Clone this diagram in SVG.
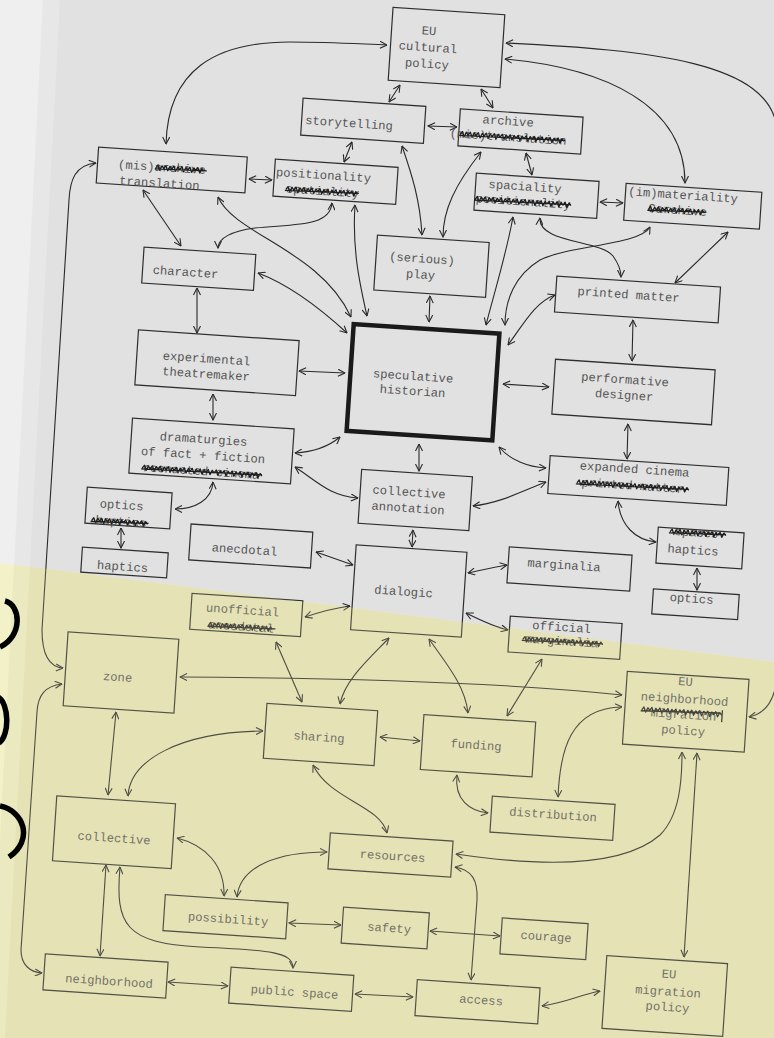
<svg xmlns="http://www.w3.org/2000/svg" width="774" height="1038" viewBox="0 0 774 1038">
<style>
.b{fill:none;stroke:#2e2e2e;stroke-width:1.2}
.t{font-family:"Liberation Mono","DejaVu Sans Mono",monospace;font-size:12.2px;fill:#555;text-anchor:middle;dominant-baseline:central}
.s{fill:none;stroke:#1e1e1e;stroke-width:1.3;stroke-linejoin:round}
.c path{fill:none;stroke:#2a2a2a;stroke-width:1.1;marker-start:url(#a);marker-end:url(#a)}
</style>
<defs>
<marker id="a" viewBox="0 0 8 8" refX="7.5" refY="4" markerWidth="8" markerHeight="8" markerUnits="userSpaceOnUse" orient="auto-start-reverse"><path d="M0.5,0.5 L7.5,4 L0.5,7.5" fill="none" stroke="#2a2a2a" stroke-width="1.1"/></marker>
</defs>
<g id="background">
<rect width="774" height="1038" fill="#efefef"/>
<polygon points="43,0 774,0 774,1038 -10,1038" fill="#e7e7e7"/>
<polygon points="60,0 774,0 774,1038 5,1038" fill="#e1e1e1"/>
<polygon points="0,563 774,662 774,1038 0,1038" fill="#f3f1c8"/>
<polygon points="14,564.8 774,662 774,1038 -10,1038" fill="#ebe9bf"/>
<polygon points="30,566.8 774,662 774,1038 5,1038" fill="#e5e3b6"/>
</g>
<g id="connectors" class="c">
<path d="M166,144 C168,70 215,42 290,42 C330,42 360,44 387,45"/>
<path d="M400,85 L389,102"/>
<path d="M481,89 L493,108"/>
<path d="M506,43 C650,50 772,62 777,130 L777,670 C777,700 765,714 749,717"/>
<path d="M505,59 C605,68 685,105 685,183"/>
<path d="M428,126 L457,127"/>
<path d="M352,142 L344,162"/>
<path d="M402,146 C412,175 420,200 422,235"/>
<path d="M481,152 C455,185 443,210 443,237"/>
<path d="M526,153 L532,175"/>
<path d="M249,179 L272,180"/>
<path d="M143,190 L181,246"/>
<path d="M218,197 C235,235 320,250 351,317"/>
<path d="M332,203 C330,228 290,224 255,228 C232,231 218,238 218,248"/>
<path d="M355,205 C352,250 360,285 367,316"/>
<path d="M258,273 C290,285 322,310 347,333"/>
<path d="M197,288 L197,333"/>
<path d="M513,217 C506,255 495,290 486,325"/>
<path d="M540,218 C538,243 600,240 613,256 C618,263 621,270 621,277"/>
<path d="M600,202 L623,203"/>
<path d="M650,227 C640,245 570,245 540,260 C515,275 505,300 505,325"/>
<path d="M728,232 L675,283"/>
<path d="M430,296 L429,322"/>
<path d="M555,295 C535,302 523,325 508,345"/>
<path d="M633,320 L632,361"/>
<path d="M299,371 L345,373"/>
<path d="M503,384 L549,387"/>
<path d="M213,394 L213,420"/>
<path d="M295,453 C312,452 328,447 340,437"/>
<path d="M295,467 C318,482 330,496 358,498"/>
<path d="M213,482 C212,500 195,509 175,509"/>
<path d="M121,528 L121,548"/>
<path d="M419,444 L419,471"/>
<path d="M499,447 C510,460 528,467 546,468"/>
<path d="M473,506 C500,503 520,492 546,482"/>
<path d="M628,424 L627,459"/>
<path d="M618,501 C620,525 635,540 656,542"/>
<path d="M697,568 L697,590"/>
<path d="M413,530 L412,547"/>
<path d="M316,552 L353,565"/>
<path d="M468,573 C482,570 495,567 507,565"/>
<path d="M466,613 C480,620 495,627 508,630"/>
<path d="M305,617 C320,612 335,608 350,606"/>
<path d="M276,642 L302,702"/>
<path d="M389,638 C368,660 345,680 340,704"/>
<path d="M429,639 C445,662 465,685 468,713"/>
<path d="M542,659 L507,716"/>
<path d="M180,677 C350,678 500,682 622,695"/>
<path d="M380,737 L420,741"/>
<path d="M457,775 C454,800 470,811 488,813"/>
<path d="M558,797 C560,750 570,708 622,707"/>
<path d="M116,712 L108,795"/>
<path d="M263,731 C180,732 130,760 128,796"/>
<path d="M313,765 C330,800 380,805 387,833"/>
<path d="M177,838 C205,845 225,865 224,896"/>
<path d="M327,852 C280,852 240,865 237,897"/>
<path d="M106,865 L100,956"/>
<path d="M120,867 C115,925 125,943 200,947 C270,950 293,952 293,968"/>
<path d="M289,923 L341,925"/>
<path d="M430,931 L500,936"/>
<path d="M456,854 C530,865 620,870 660,835 C680,815 682,780 682,752"/>
<path d="M697,753 L684,957"/>
<path d="M455,867 C472,870 478,880 477,900 L471,980"/>
<path d="M542,1006 C565,1003 580,995 600,991"/>
<path d="M355,994 L413,997"/>
<path d="M168,982 L228,986"/>
<path d="M96,163 C75,165 70,180 69,200 L42,630 C42,655 50,667 63,668"/>
<path d="M62,684 C45,686 38,695 37,712 L21,950 C21,965 30,972 42,973"/>
</g>
<g id="n-eu-cultural-policy" transform="translate(446.5,47.5) rotate(3.8)"><rect class="b" x="-56" y="-36.5" width="112" height="73"/><text class="t" x="-18.5" y="-14.5">EU</text><text class="t" x="-18.5" y="2">cultural</text><text class="t" x="-18.5" y="18.5">policy</text></g>
<g id="n-storytelling" transform="translate(363.25,120.75) rotate(3.8)"><rect class="b" x="-61.5" y="-18.5" width="123" height="37"/><text class="t" x="-14" y="4.2">storytelling</text></g>
<g id="n-archive" transform="translate(520.5,131.5) rotate(3.8)"><rect class="b" x="-61.5" y="-18.5" width="123" height="37"/><text class="t" x="-13" y="-8.7">archive</text><text class="t" x="-12" y="7.3">(mis)translation</text><path class="s" d="M-60,7 l2,-3 2,5 2,-4.5 2,2.5 2,-3 2,5 2,-4.5 2,2.5 2,-3 2,5 2,-4.5 2,2.5 2,-3 2,5 2,-4.5 2,2.5 2,-3 2,5 2,-4.5 2,2.5 2,-3 2,5 2,-4.5 2,2.5 2,-3 2,5 2,-4.5 2,2.5 2,-3 2,5 2,-4.5 2,2.5 2,-3 2,5 2,-4.5 2,2.5 2,-3 2,5 2,-4.5 2,2.5 2,-3 2,5 2,-4.5 2,2.5 2,-3 2,5 2,-4.5 2,2.5 2,-3 2,5 2,-4.5 2,2.5 M-61,8 L45,6"/></g>
<g id="n-mis-archive-translation" transform="translate(171.75,170) rotate(3.8)"><rect class="b" x="-74.5" y="-18" width="149" height="36"/><text class="t" x="-10" y="-1.2">(mis)archive</text><text class="t" x="-11.5" y="14.8">translation</text><path class="s" d="M-16,-1 l2,-3 2,5 2,-4.5 2,2.5 2,-3 2,5 2,-4.5 2,2.5 2,-3 2,5 2,-4.5 2,2.5 2,-3 2,5 2,-4.5 2,2.5 2,-3 2,5 2,-4.5 2,2.5 2,-3 2,5 2,-4.5 2,2.5 M-17,0 L35,-1.5"/></g>
<g id="n-positionality" transform="translate(335.5,181.75) rotate(3.8)"><rect class="b" x="-61.5" y="-18.5" width="123" height="37"/><text class="t" x="-12.4" y="-4.9">positionality</text><text class="t" x="-12.3" y="11.1">spatiality</text><path class="s" d="M-49,11 l2,-3 2,5 2,-4.5 2,2.5 2,-3 2,5 2,-4.5 2,2.5 2,-3 2,5 2,-4.5 2,2.5 2,-3 2,5 2,-4.5 2,2.5 2,-3 2,5 2,-4.5 2,2.5 2,-3 2,5 2,-4.5 2,2.5 2,-3 2,5 2,-4.5 2,2.5 2,-3 2,5 2,-4.5 2,2.5 2,-3 2,5 2,-4.5 2,2.5 M-50,12 L24,10"/></g>
<g id="n-spaciality" transform="translate(536.5,195.75) rotate(3.8)"><rect class="b" x="-61.5" y="-18.5" width="123" height="37"/><text class="t" x="-12" y="-7.5">spaciality</text><text class="t" x="-13" y="7.6">positionality</text><path class="s" d="M-61,7.6 l2,-3 2,5 2,-4.5 2,2.5 2,-3 2,5 2,-4.5 2,2.5 2,-3 2,5 2,-4.5 2,2.5 2,-3 2,5 2,-4.5 2,2.5 2,-3 2,5 2,-4.5 2,2.5 2,-3 2,5 2,-4.5 2,2.5 2,-3 2,5 2,-4.5 2,2.5 2,-3 2,5 2,-4.5 2,2.5 2,-3 2,5 2,-4.5 2,2.5 2,-3 2,5 2,-4.5 2,2.5 2,-3 2,5 2,-4.5 2,2.5 2,-3 2,5 2,-4.5 2,2.5 M-62,8.5 L35,6.5"/></g>
<g id="n-immateriality" transform="translate(692.75,206.25) rotate(3.8)"><rect class="b" x="-68" y="-18.5" width="136" height="37"/><text class="t" x="-10.4" y="-9.6">(im)materiality</text><text class="t" x="-14.9" y="5.75">Carchive</text><path class="s" d="M-44,6 l2,-3 2,5 2,-4.5 2,2.5 2,-3 2,5 2,-4.5 2,2.5 2,-3 2,5 2,-4.5 2,2.5 2,-3 2,5 2,-4.5 2,2.5 2,-3 2,5 2,-4.5 2,2.5 2,-3 2,5 2,-4.5 2,2.5 2,-3 2,5 2,-4.5 2,2.5 M-45,7 L14,5"/></g>
<g id="n-character" transform="translate(198.75,268.75) rotate(3.8)"><rect class="b" x="-56" y="-18" width="112" height="36"/><text class="t" x="-13" y="5.1">character</text></g>
<g id="n-serious-play" transform="translate(431.5,266.25) rotate(3.8)"><rect class="b" x="-56" y="-27.5" width="112" height="55"/><text class="t" x="-10" y="-6.1">(serious)</text><text class="t" x="-10.4" y="10">play</text></g>
<g id="n-printed-matter" transform="translate(637.5,299.5) rotate(3.8)"><rect class="b" x="-82" y="-18" width="164" height="36"/><text class="t" x="-9.3" y="-3.4">printed matter</text></g>
<g id="n-speculative-historian" transform="translate(423,382.25) rotate(3.8)"><rect x="-73" y="-53.5" width="146" height="107" fill="none" stroke="#1a1a1a" stroke-width="4.5"/><text class="t" x="-10.35" y="-4.6">speculative</text><text class="t" x="-9.85" y="10.4">historian</text></g>
<g id="n-experimental-theatremaker" transform="translate(217,362.75) rotate(3.8)"><rect class="b" x="-80.5" y="-27.5" width="161" height="55"/><text class="t" x="-10.7" y="-2.5">experimental</text><text class="t" x="-10.2" y="12.9">theatremaker</text></g>
<g id="n-performative-designer" transform="translate(633.5,392) rotate(3.8)"><rect class="b" x="-80" y="-27.5" width="160" height="55"/><text class="t" x="-9.3" y="-10.9">performative</text><text class="t" x="-9.2" y="4.6">designer</text></g>
<g id="n-dramaturgies" transform="translate(211.5,451) rotate(3.8)"><rect class="b" x="-81" y="-27.5" width="162" height="55"/><text class="t" x="-8.7" y="-10.4">dramaturgies</text><text class="t" x="-8.2" y="5.6">of fact + fiction</text><text class="t" x="-9.1" y="21.7">reenacted cinema</text><path class="s" d="M-68,21.7 l2,-3 2,5 2,-4.5 2,2.5 2,-3 2,5 2,-4.5 2,2.5 2,-3 2,5 2,-4.5 2,2.5 2,-3 2,5 2,-4.5 2,2.5 2,-3 2,5 2,-4.5 2,2.5 2,-3 2,5 2,-4.5 2,2.5 2,-3 2,5 2,-4.5 2,2.5 2,-3 2,5 2,-4.5 2,2.5 2,-3 2,5 2,-4.5 2,2.5 2,-3 2,5 2,-4.5 2,2.5 2,-3 2,5 2,-4.5 2,2.5 2,-3 2,5 2,-4.5 2,2.5 2,-3 2,5 2,-4.5 2,2.5 2,-3 2,5 2,-4.5 2,2.5 2,-3 2,5 2,-4.5 2,2.5 M-69,22.5 L52,20.5"/></g>
<g id="n-expanded-cinema" transform="translate(638.25,480.5) rotate(3.8)"><rect class="b" x="-89.5" y="-19" width="179" height="38"/><text class="t" x="-4.45" y="-10.2">expanded cinema</text><text class="t" x="-5.35" y="6.4">printed matter</text><path class="s" d="M-61,6.4 l2,-3 2,5 2,-4.5 2,2.5 2,-3 2,5 2,-4.5 2,2.5 2,-3 2,5 2,-4.5 2,2.5 2,-3 2,5 2,-4.5 2,2.5 2,-3 2,5 2,-4.5 2,2.5 2,-3 2,5 2,-4.5 2,2.5 2,-3 2,5 2,-4.5 2,2.5 2,-3 2,5 2,-4.5 2,2.5 2,-3 2,5 2,-4.5 2,2.5 2,-3 2,5 2,-4.5 2,2.5 2,-3 2,5 2,-4.5 2,2.5 2,-3 2,5 2,-4.5 2,2.5 2,-3 2,5 2,-4.5 2,2.5 2,-3 2,5 2,-4.5 2,2.5 M-62,7.5 L51,5.5"/></g>
<g id="n-collective-annotation" transform="translate(415.25,500) rotate(3.8)"><rect class="b" x="-55.5" y="-27" width="111" height="54"/><text class="t" x="-6.7" y="-6.6">collective</text><text class="t" x="-6.65" y="9.5">annotation</text></g>
<g id="n-optics-left" transform="translate(128.5,508) rotate(3.8)"><rect class="b" x="-42.5" y="-18" width="85" height="36"/><text class="t" x="-7.1" y="-1.5">optics</text><text class="t" x="-6.5" y="15">haptics</text><path class="s" d="M-36,15 l2,-3 2,5 2,-4.5 2,2.5 2,-3 2,5 2,-4.5 2,2.5 2,-3 2,5 2,-4.5 2,2.5 2,-3 2,5 2,-4.5 2,2.5 2,-3 2,5 2,-4.5 2,2.5 2,-3 2,5 2,-4.5 2,2.5 2,-3 2,5 2,-4.5 2,2.5 M-37,16 L21,14"/></g>
<g id="n-haptics-left" transform="translate(124.5,562.5) rotate(3.8)"><rect class="b" x="-43" y="-12.5" width="86" height="25"/><text class="t" x="-1.7" y="5.1">haptics</text></g>
<g id="n-anecdotal" transform="translate(250.75,546) rotate(3.8)"><rect class="b" x="-61" y="-18" width="122" height="36"/><text class="t" x="-6" y="4.9">anecdotal</text></g>
<g id="n-dialogic" transform="translate(408.75,591) rotate(3.8)"><rect class="b" x="-55.5" y="-42.5" width="111" height="85"/><text class="t" x="-5.15" y="1.85">dialogic</text></g>
<g id="n-marginalia" transform="translate(569.5,569) rotate(3.8)"><rect class="b" x="-61.5" y="-18" width="123" height="36"/><text class="t" x="-5.7" y="-2.6">marginalia</text></g>
<g id="n-haptics-right" transform="translate(700,548) rotate(3.8)"><rect class="b" x="-43" y="-18" width="86" height="36"/><text class="t" x="-4.5" y="-14.2">spaces</text><text class="t" x="-6.8" y="3.5">haptics</text><path class="s" d="M-31,-14 l2,-3 2,5 2,-4.5 2,2.5 2,-3 2,5 2,-4.5 2,2.5 2,-3 2,5 2,-4.5 2,2.5 2,-3 2,5 2,-4.5 2,2.5 2,-3 2,5 2,-4.5 2,2.5 2,-3 2,5 2,-4.5 2,2.5 2,-3 2,5 2,-4.5 2,2.5 M-32,-13 L25,-15"/></g>
<g id="n-optics-right" transform="translate(695.5,604.25) rotate(3.8)"><rect class="b" x="-43" y="-12.5" width="86" height="25"/><text class="t" x="-4.3" y="-4.5">optics</text></g>
<g id="n-unofficial" transform="translate(246.25,615) rotate(3.8)"><rect class="b" x="-55.5" y="-18" width="111" height="36"/><text class="t" x="-4" y="-3.75">unofficial</text><text class="t" x="-4.4" y="12.8">anecdotal</text><path class="s" d="M-37,12.8 l2,-3 2,5 2,-4.5 2,2.5 2,-3 2,5 2,-4.5 2,2.5 2,-3 2,5 2,-4.5 2,2.5 2,-3 2,5 2,-4.5 2,2.5 2,-3 2,5 2,-4.5 2,2.5 2,-3 2,5 2,-4.5 2,2.5 2,-3 2,5 2,-4.5 2,2.5 2,-3 2,5 2,-4.5 2,2.5 M-38,13.8 L30,12"/></g>
<g id="n-official" transform="translate(565,637.75) rotate(3.8)"><rect class="b" x="-56" y="-18" width="112" height="36"/><text class="t" x="-4.15" y="-9.5">official</text><text class="t" x="-3.2" y="4.5">marginalia</text><path class="s" d="M-42,4.5 l2,-3 2,5 2,-4.5 2,2.5 2,-3 2,5 2,-4.5 2,2.5 2,-3 2,5 2,-4.5 2,2.5 2,-3 2,5 2,-4.5 2,2.5 2,-3 2,5 2,-4.5 2,2.5 2,-3 2,5 2,-4.5 2,2.5 2,-3 2,5 2,-4.5 2,2.5 2,-3 2,5 2,-4.5 2,2.5 2,-3 2,5 2,-4.5 2,2.5 2,-3 2,5 2,-4.5 2,2.5 M-43,5.5 L38,3.5"/></g>
<g id="n-zone" transform="translate(121,672.5) rotate(3.8)"><rect class="b" x="-55.5" y="-37" width="111" height="74"/><text class="t" x="-3.1" y="5.7">zone</text></g>
<g id="n-sharing" transform="translate(320.5,734.5) rotate(3.8)"><rect class="b" x="-55.5" y="-27.5" width="111" height="55"/><text class="t" x="-1.3" y="3.6">sharing</text></g>
<g id="n-funding" transform="translate(478,745.75) rotate(3.8)"><rect class="b" x="-56" y="-27.5" width="112" height="55"/><text class="t" x="-2" y="0.4">funding</text></g>
<g id="n-eu-neighborhood-policy" transform="translate(685.75,711.75) rotate(3.8)"><rect class="b" x="-61" y="-36.5" width="122" height="73"/><text class="t" x="-2.2" y="-29.2">EU</text><text class="t" x="-2" y="-11.6">neighborhood</text><text class="t" x="-2" y="3.9">migration</text><text class="t" x="-1.45" y="19.9">policy</text><path class="s" d="M-44,1 l2,-3 2,5 2,-4.5 2,2.5 2,-3 2,5 2,-4.5 2,2.5 2,-3 2,5 2,-4.5 2,2.5 2,-3 2,5 2,-4.5 2,2.5 2,-3 2,5 2,-4.5 2,2.5 2,-3 2,5 2,-4.5 2,2.5 2,-3 2,5 2,-4.5 2,2.5 2,-3 2,5 2,-4.5 2,2.5 2,-3 2,5 2,-4.5 2,2.5 2,-3 2,5 2,-4.5 2,2.5 M-45,2 L34,-1 M36.5,-4 L36.5,8"/></g>
<g id="n-distribution" transform="translate(552.5,818.25) rotate(3.8)"><rect class="b" x="-61.5" y="-18" width="123" height="36"/><text class="t" x="0.3" y="-2.8">distribution</text></g>
<g id="n-collective" transform="translate(114,832.25) rotate(3.8)"><rect class="b" x="-59.5" y="-32.5" width="119" height="65"/><text class="t" x="0.45" y="6.7">collective</text></g>
<g id="n-resources" transform="translate(390.5,855) rotate(3.8)"><rect class="b" x="-61.5" y="-18" width="123" height="36"/><text class="t" x="2.1" y="1.9">resources</text></g>
<g id="n-possibility" transform="translate(225.5,916.75) rotate(3.8)"><rect class="b" x="-61.5" y="-18" width="123" height="36"/><text class="t" x="2.7" y="3.1">possibility</text></g>
<g id="n-safety" transform="translate(385.25,928) rotate(3.8)"><rect class="b" x="-43" y="-18" width="86" height="36"/><text class="t" x="3.8" y="0.75">safety</text></g>
<g id="n-courage" transform="translate(544,938.75) rotate(3.8)"><rect class="b" x="-43" y="-18" width="86" height="36"/><text class="t" x="1.9" y="-1.4">courage</text></g>
<g id="n-eu-migration-policy" transform="translate(664.75,996) rotate(3.8)"><rect class="b" x="-60.5" y="-36.5" width="121" height="73"/><text class="t" x="2.9" y="-21.2">EU</text><text class="t" x="3" y="-3.7">migration</text><text class="t" x="3.5" y="11.8">policy</text></g>
<g id="n-neighborhood" transform="translate(105.5,976) rotate(3.8)"><rect class="b" x="-61.5" y="-18" width="123" height="36"/><text class="t" x="3.9" y="5.8">neighborhood</text></g>
<g id="n-public-space" transform="translate(291.25,989.25) rotate(3.8)"><rect class="b" x="-61.5" y="-18" width="123" height="36"/><text class="t" x="3.5" y="3.5">public space</text></g>
<g id="n-access" transform="translate(477.5,1001.75) rotate(3.8)"><rect class="b" x="-61.5" y="-18" width="123" height="36"/><text class="t" x="3.45" y="-1">access</text></g>
<polygon id="tint" points="30,566.8 774,662 774,1038 5,1038" fill="#e5e3b6" opacity="0.2"/>
<g id="edge-marks" fill="none" stroke="#000" stroke-width="5.5">
<path d="M5,601 C21,605 23,636 0,647"/>
<path d="M-2,697 C9,703 10,735 -1,743"/>
<path d="M0,806 C24,811 34,840 9,857"/>
</g>
</svg>
